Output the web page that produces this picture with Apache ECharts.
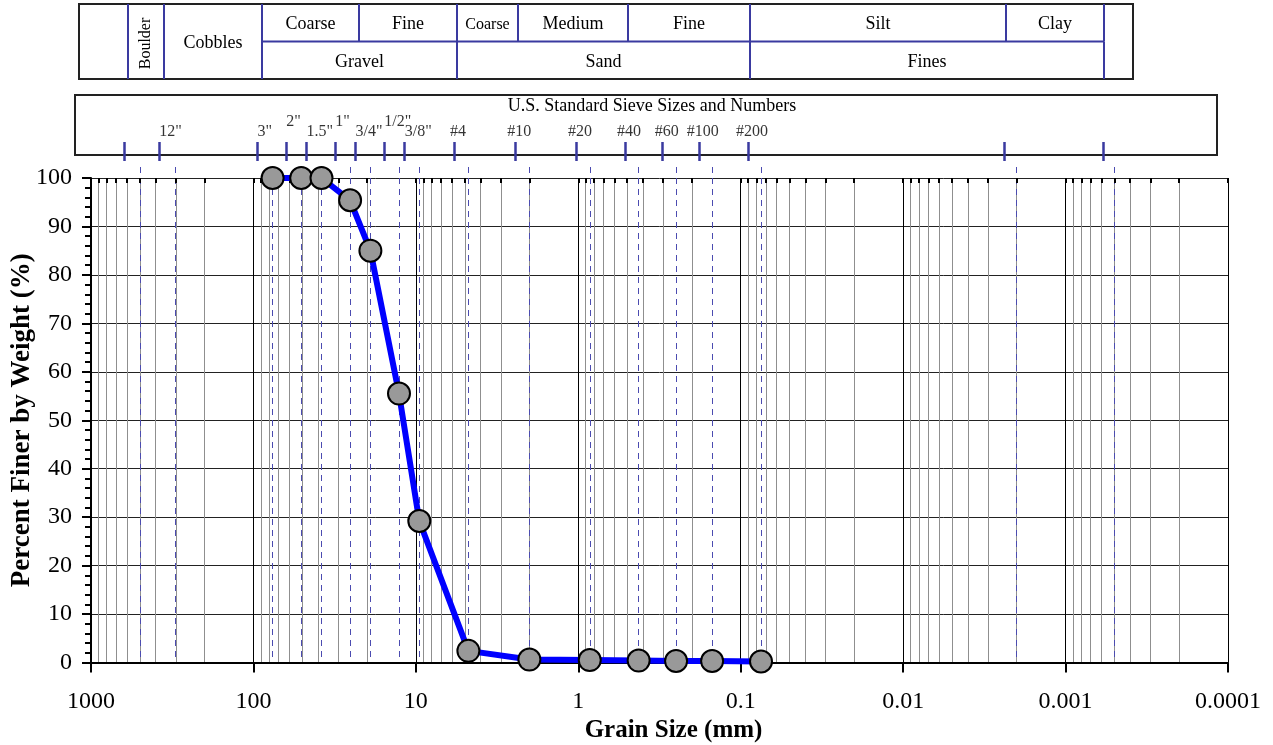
<!DOCTYPE html>
<html>
<head>
<meta charset="utf-8">
<script src="https://cdn.jsdelivr.net/npm/echarts@6/dist/echarts.min.js"></script>
<style>
  html, body { margin: 0; padding: 0; background: #fff; }
  #chart { width: 1273px; height: 745px; }
</style>
</head>
<body>
<div id="chart"></div>
<script>
// grain size test results
const grainSize = [76.2, 50.8, 38.1, 25.4, 19.05, 12.7, 9.525, 4.75, 2.0, 0.85, 0.425, 0.25, 0.15, 0.075]
const percentFiner = [100, 100, 100, 95.4, 85.0, 55.5, 29.2, 2.4, 0.6, 0.5, 0.4, 0.3, 0.3, 0.2]

// sieve openings (mm) and their names
const sieveSizes = [500, 304.8, 76.2, 50.8, 38.1, 25.4, 19.05, 12.7, 9.525, 4.75, 2.0, 0.85, 0.425, 0.25, 0.15, 0.075, 0.002, 0.0005]
const sieveLabels = ['', '12"', '3"', '2"', '1.5"', '1"', '3/4"', '1/2"', '3/8"', '#4', '#10', '#20', '#40', '#60', '#100', '#200', '', '']
const raisedLabels = ['2"', '1"', '1/2"']

// soil classification bands (mm)
const classLabels = ['Boulder', 'Cobbles', 'Coarse', 'Fine', 'Gravel', 'Coarse', 'Medium', 'Fine', 'Sand', 'Silt', 'Clay', 'Fines']
const classFrom = [500, 300, 75, 19, 75, 4.75, 2, 0.425, 4.75, 0.075, 0.002, 0.075]
const classTo = [300, 75, 19, 4.75, 4.75, 2, 0.425, 0.075, 0.075, 0.002, 0.0005, 0.0005]
const classRow = ['full', 'full', 'top', 'top', 'bottom', 'top', 'top', 'top', 'bottom', 'top', 'top', 'bottom']

const xTickLabels = ['1000', '100', '10', '1', '0.1', '0.01', '0.001', '0.0001']

const FONT = 'Liberation Serif'
const BLUE = '#3a3aa0'

const decades = xTickLabels.map(Number)
const minorValues = []
decades.slice(1).forEach(d => {
  for (let m = 2; m <= 9; m++) minorValues.push(+(m * d).toPrecision(6))
})

const rowSpan = { full: [0, 2], top: [1, 2], bottom: [0, 1] }

const chart = echarts.init(document.getElementById('chart'))

const logAxis = (extra) => Object.assign({
  type: 'log',
  logBase: 10,
  min: 0.0001,
  max: 1000,
  inverse: true,
  axisLine: { show: false },
  axisTick: { show: false },
  axisLabel: { show: false },
  splitLine: { show: false }
}, extra)

const hiddenY = (grid, max) => ({
  gridIndex: grid, type: 'value', min: 0, max: max, show: false
})

const option = {
  animation: false,
  backgroundColor: '#fff',
  title: {
    text: 'U.S. Standard Sieve Sizes and Numbers',
    left: 652,
    top: 97,
    textAlign: 'center',
    padding: 0,
    textStyle: { fontFamily: FONT, fontSize: 18, fontWeight: 'normal', color: '#000' }
  },
  grid: [
    { left: 91, right: 45, top: 178, bottom: 82.5, outerBoundsMode: 'none' },
    { left: 91, right: 45, top: 167, bottom: 82.5, outerBoundsMode: 'none' },
    { left: 75, right: 56, top: 95, height: 60, show: true, borderColor: '#222', borderWidth: 2, backgroundColor: 'transparent', outerBoundsMode: 'none' },
    { left: 79, right: 140, top: 4, height: 75, show: true, borderColor: '#222', borderWidth: 2, backgroundColor: 'transparent', outerBoundsMode: 'none' },
    { left: 75, right: 56, top: 142, height: 19, outerBoundsMode: 'none' }
  ],
  xAxis: [
    logAxis({
      gridIndex: 0,
      axisLine: { show: true, lineStyle: { color: '#000', width: 2 } },
      axisTick: { show: true, length: 10, lineStyle: { color: '#000', width: 2 } },
      axisLabel: {
        show: true,
        margin: 27,
        fontFamily: FONT,
        fontSize: 24,
        color: '#000',
        formatter: v => xTickLabels.find(l => Math.abs(Math.log10(Number(l)) - Math.log10(v)) < 1e-6) || ''
      },
      splitLine: { show: true, lineStyle: { color: '#000', width: 1 } },
      name: 'Grain Size (mm)',
      nameLocation: 'middle',
      nameGap: 56,
      nameTextStyle: { fontFamily: FONT, fontSize: 25, fontWeight: 'bold', color: '#000', padding: [0, 0, 0, 28] }
    }),
    logAxis({
      gridIndex: 0,
      axisTick: { show: true, inside: true, length: 5, customValues: minorValues, lineStyle: { color: '#000', width: 2 } },
      splitLine: { show: true, lineStyle: { color: '#8f8f8f', width: 1 } }
    }),
    logAxis({
      gridIndex: 0,
      axisTick: { show: true, inside: true, length: 5, customValues: decades, lineStyle: { color: '#000', width: 2 } }
    }),
    logAxis({
      gridIndex: 1,
      axisTick: { show: false, customValues: sieveSizes },
      splitLine: { show: true, lineStyle: { color: '#4b4bb0', width: 1, type: [6, 5] } }
    }),
    logAxis({ gridIndex: 2 }),
    logAxis({ gridIndex: 3, min: 0.000333 }),
    logAxis({
      gridIndex: 4,
      axisTick: { show: true, inside: true, length: 19, customValues: sieveSizes, lineStyle: { color: BLUE, width: 2.5 } }
    })
  ],
  yAxis: [
    {
      gridIndex: 0,
      type: 'value',
      min: 0,
      max: 100,
      interval: 10,
      axisLine: { show: true, lineStyle: { color: '#000', width: 2 } },
      axisTick: { show: true, length: 9, lineStyle: { color: '#000', width: 2 } },
      minorTick: { show: true, splitNumber: 5, length: 6, lineStyle: { color: '#000', width: 2 } },
      axisLabel: { margin: 19, fontFamily: FONT, fontSize: 24, color: '#000' },
      splitLine: { show: true, lineStyle: { color: '#222', width: 1 } },
      name: 'Percent Finer by Weight (%)',
      nameLocation: 'middle',
      nameMoveOverlap: false,
      nameGap: 55,
      nameTextStyle: { fontFamily: FONT, fontSize: 27, fontWeight: 'bold', color: '#000' }
    },
    hiddenY(1, 1),
    hiddenY(2, 1),
    hiddenY(3, 2),
    hiddenY(4, 1)
  ],
  series: [
    {
      type: 'custom',
      xAxisIndex: 5,
      yAxisIndex: 3,
      clip: false,
      data: classLabels.map((_, i) => [classFrom[i], classTo[i]]),
      encode: { x: [0, 1] },
      renderItem: (params, api) => {
        const i = params.dataIndex
        const span = rowSpan[classRow[i]]
        const p0 = api.coord([classFrom[i], span[1]])
        const p1 = api.coord([classTo[i], span[0]])
        const x0 = Math.round(p0[0]), x1 = Math.round(p1[0])
        const top = p0[1], bottom = p1[1]
        const w = x1 - x0
        const ls = { stroke: BLUE, lineWidth: 2 }
        const children = [
          { type: 'line', shape: { x1: x0, y1: top, x2: x0, y2: bottom }, style: ls },
          { type: 'line', shape: { x1: x1, y1: top, x2: x1, y2: bottom }, style: ls }
        ]
        if (classRow[i] === 'top') {
          children.push({ type: 'line', shape: { x1: x0, y1: bottom, x2: x1, y2: bottom }, style: ls })
        }
        children.push({
          type: 'text',
          x: (x0 + x1) / 2,
          y: (top + bottom) / 2 + 2,
          rotation: w < 45 ? Math.PI / 2 : 0,
          style: {
            text: classLabels[i],
            fill: '#000',
            fontFamily: FONT,
            fontSize: w < 70 ? 16 : 18,
            align: 'center',
            verticalAlign: 'middle'
          }
        })
        return { type: 'group', children }
      }
    },
    {
      type: 'scatter',
      xAxisIndex: 4,
      yAxisIndex: 2,
      symbolSize: 1,
      itemStyle: { color: 'transparent' },
      silent: true,
      data: sieveSizes.map((s, i) => {
        const txt = sieveLabels[i]
        const isNum = txt.startsWith('#')
        const raised = raisedLabels.includes(txt)
        return {
          value: [s, 0],
          label: {
            show: txt !== '',
            formatter: txt,
            position: 'inside',
            align: isNum ? 'center' : 'left',
            verticalAlign: 'middle',
            offset: [isNum ? 4 : 0, raised ? -33 : -23],
            fontFamily: FONT,
            fontSize: 16,
            color: '#000'
          }
        }
      })
    },
    {
      type: 'line',
      xAxisIndex: 0,
      yAxisIndex: 0,
      clip: false,
      data: grainSize.map((g, i) => [g, percentFiner[i]]),
      symbol: 'circle',
      symbolSize: 22,
      lineStyle: { color: '#0000ff', width: 6 },
      itemStyle: { color: '#999999', borderColor: '#000', borderWidth: 2 },
      z: 5
    }
  ]
}

chart.setOption(option)
</script>
</body>
</html>
